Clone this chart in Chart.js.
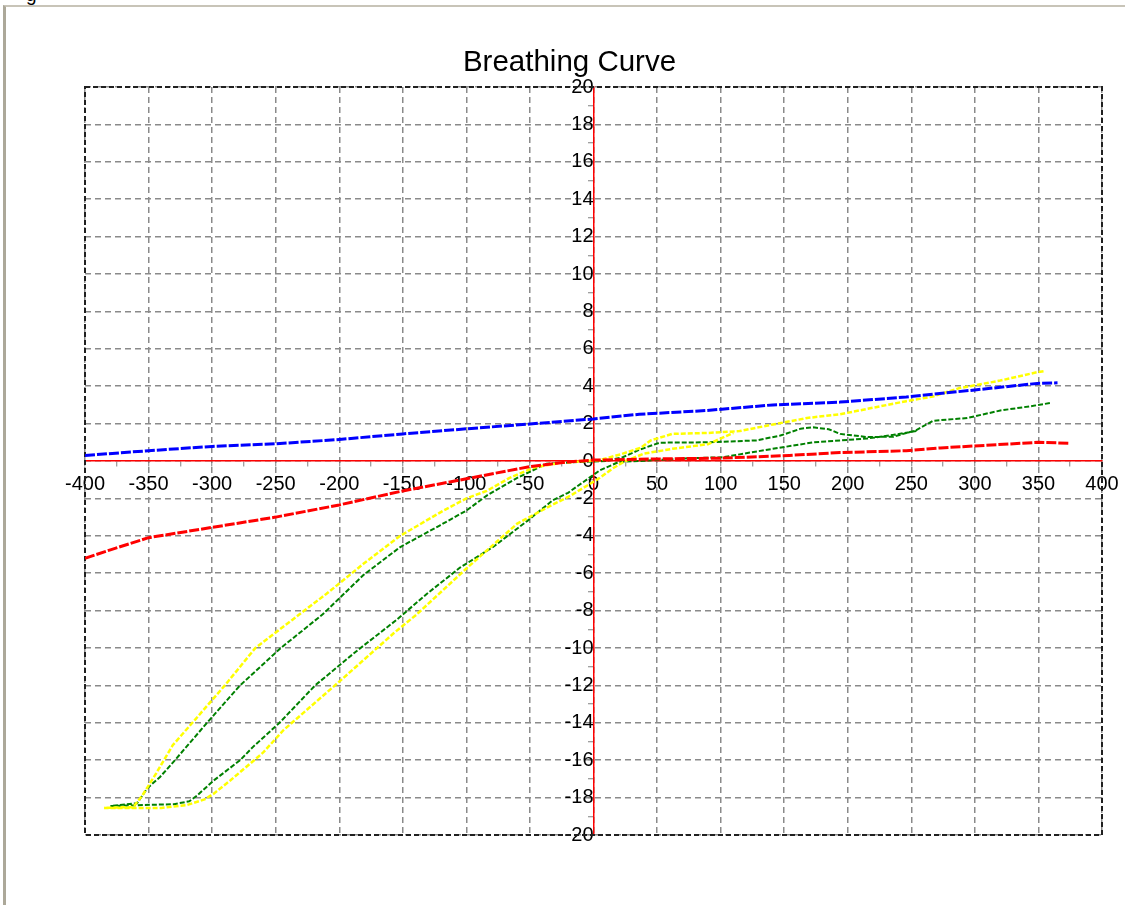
<!DOCTYPE html>
<html>
<head>
<meta charset="utf-8">
<script src="https://cdn.jsdelivr.net/npm/chart.js@4.4.1/dist/chart.umd.min.js"></script>
<style>
  html, body { margin: 0; padding: 0; background: #fff; width: 1125px; height: 905px; overflow: hidden; }
  #frame { position: absolute; left: 3px; top: 5px; width: 1125px; height: 898px;
           border-left: 3px solid #aca899; border-top: 2px solid #c8c4b8; border-bottom: 1px solid #e2e2e2; }
  #cut { position: absolute; left: 26px; top: -16px; font: 19px "Liberation Sans", Arial, sans-serif; color: #000; }
  #wrap { position: absolute; left: 0; top: 0; width: 1125px; height: 905px; }
</style>
</head>
<body>
<div id="frame"></div>
<div id="cut">g</div>
<div id="wrap"><canvas id="c" width="1125" height="905"></canvas></div>
<script>
// ---- data (x, y) ----
const titleText = 'Breathing Curve';
const xRange = [-400, 400];
const yRange = [-20, 20];

const bluePts = [[-400,0.3],[-350,0.55],[-300,0.78],[-250,0.92],[-200,1.15],[-150,1.45],[-100,1.72],
  [-50,1.98],[0,2.25],[36,2.5],[89,2.7],[141,3.0],[194,3.15],[246,3.42],[300,3.8],[349,4.15],[365,4.18]];

const redPts = [[-400,-5.2],[-380,-4.75],[-350,-4.1],[-300,-3.55],[-250,-3.0],[-200,-2.35],[-150,-1.6],
  [-100,-0.95],[-50,-0.3],[-20,-0.05],[0,0.05],[36,0.1],[100,0.15],[154,0.3],[194,0.45],[246,0.55],
  [273,0.7],[350,1.0],[375,0.95]];

const yellowPts = [[354,4.8],[349,4.75],[320,4.3],[288,3.9],[267,3.45],[246,3.2],[220,2.85],[194,2.5],
  [168,2.3],[141,1.95],[115,1.6],[90,1.5],[62,1.45],[45,1.1],[37,0.7],[21,0.35],[5,0.05],[-10,-0.02],
  [-26,-0.1],[-47,-0.35],[-66,-0.9],[-84,-1.6],[-100,-2.0],[-118,-2.65],[-152,-4.0],[-181,-5.5],
  [-210,-7.1],[-237,-8.5],[-266,-10.0],[-290,-12.0],[-313,-13.8],[-331,-15.2],[-344,-16.7],[-355,-17.9],
  [-362,-18.5],[-385,-18.55],[-340,-18.55],[-320,-18.4],[-306,-18.1],[-299,-17.8],[-286,-17.1],
  [-260,-15.6],[-244,-14.4],[-200,-11.8],[-157,-9.2],[-139,-8.2],[-100,-5.75],[-60,-3.35],[-34,-2.4],
  [-18,-1.85],[5,-0.9],[15,-0.4],[25,0.0],[40,0.4],[62,0.65],[90,0.9],[110,1.5]];

const greenPts = [[359,3.1],[346,2.95],[320,2.7],[294,2.3],[267,2.15],[254,1.65],[236,1.3],[215,1.28],
  [194,1.45],[185,1.7],[173,1.8],[163,1.73],[147,1.36],[128,1.1],[89,1.0],[52,0.98],[36,0.6],[23,0.2],
  [10,0.0],[-10,-0.05],[-37,-0.15],[-60,-0.9],[-84,-1.85],[-100,-2.65],[-121,-3.45],[-152,-4.6],
  [-181,-6.1],[-213,-8.2],[-246,-10.0],[-278,-12.0],[-304,-14.0],[-328,-15.9],[-341,-16.9],[-351,-17.5],
  [-359,-18.3],[-380,-18.45],[-330,-18.35],[-318,-18.2],[-312,-17.9],[-299,-17.1],[-278,-16.0],
  [-268,-15.3],[-247,-14.0],[-219,-12.0],[-187,-10.2],[-155,-8.5],[-131,-7.1],[-105,-5.7],[-79,-4.6],
  [-52,-3.2],[-32,-2.1],[-20,-1.7],[5,-0.5],[20,-0.05],[50,0.05],[76,0.15],[102,0.2],[123,0.45],
  [141,0.65],[173,1.0],[194,1.1],[215,1.2],[236,1.4],[254,1.6]];

const xMajor = 50, xMinor = 25, yMajor = 2, yMinor = 1;

const toXY = pts => pts.map(p => ({x: p[0], y: p[1]}));
const FONT = '"Liberation Sans", Arial, sans-serif';

const chartBorder = {
  id: 'chartBorder',
  beforeDatasetsDraw(chart) {
    const a = chart.chartArea, ctx = chart.ctx;
    ctx.save();
    ctx.setLineDash([5, 3]);
    ctx.strokeStyle = '#202020';
    ctx.lineWidth = 2;
    ctx.strokeRect(a.left, a.top, a.right - a.left, a.bottom - a.top);
    ctx.restore();
  }
};
const titleShift = {
  id: 'titleShift',
  afterLayout(chart) {
    const t = chart.titleBlock;
    if (t) { t.left -= 24; t.right -= 24; }
  }
};

function ds(pts, color, width, dash) {
  return { data: toXY(pts), borderColor: color, backgroundColor: color, showLine: true,
           borderWidth: width, borderDash: dash, pointRadius: 0, tension: 0, fill: false };
}

new Chart(document.getElementById('c'), {
  type: 'scatter',
  data: {
    datasets: [
      ds(redPts, '#ff0000', 3, [10, 2]),
      ds(bluePts, '#0000ff', 3, [10, 2]),
      ds(yellowPts, '#ffff00', 2.5, [5, 2]),
      ds(greenPts, '#008000', 2, [5, 2]),
    ]
  },
  options: {
    responsive: false,
    animation: false,
    devicePixelRatio: 1,
    layout: { padding: { left: 85, right: 23, top: 48.5, bottom: 70 } },
    plugins: {
      legend: { display: false },
      tooltip: { enabled: false },
      title: { display: true, text: titleText, color: '#000',
               font: { family: FONT, size: 29.5, weight: 'normal', lineHeight: 1 },
               padding: { top: 0, bottom: 9 } }
    },
    scales: {
      x: {
        type: 'linear', position: { y: 0 }, min: xRange[0], max: xRange[1],
        grid: { color: c => (c.tick && c.tick.value % xMajor === 0) ? '#8a8a8a' : 'rgba(0,0,0,0)',
                lineWidth: 1.5, tickColor: '#808080', tickLength: 5, tickWidth: 1, drawTicks: true },
        border: { display: true, color: '#ff0000', width: 1.5, dash: [6, 4] },
        ticks: { stepSize: xMinor, autoSkip: false, maxRotation: 0, color: '#000', padding: 6,
                 font: { family: FONT, size: 20 },
                 callback: v => (v % xMajor === 0) ? String(v) : '' }
      },
      y: {
        type: 'linear', position: { x: 0 }, min: yRange[0], max: yRange[1],
        grid: { color: c => (c.tick && c.tick.value % yMajor === 0) ? '#8a8a8a' : 'rgba(0,0,0,0)',
                lineWidth: 1.5, tickColor: '#808080', tickLength: 5, tickWidth: 1, drawTicks: true },
        border: { display: true, color: '#ff0000', width: 1.5, dash: [6, 4] },
        ticks: { stepSize: yMinor, autoSkip: false, color: '#000', padding: 3,
                 font: { family: FONT, size: 20 },
                 callback: v => (v % yMajor === 0) ? String(v) : '' }
      }
    }
  },
  plugins: [chartBorder, titleShift]
});
</script>
</body>
</html>
